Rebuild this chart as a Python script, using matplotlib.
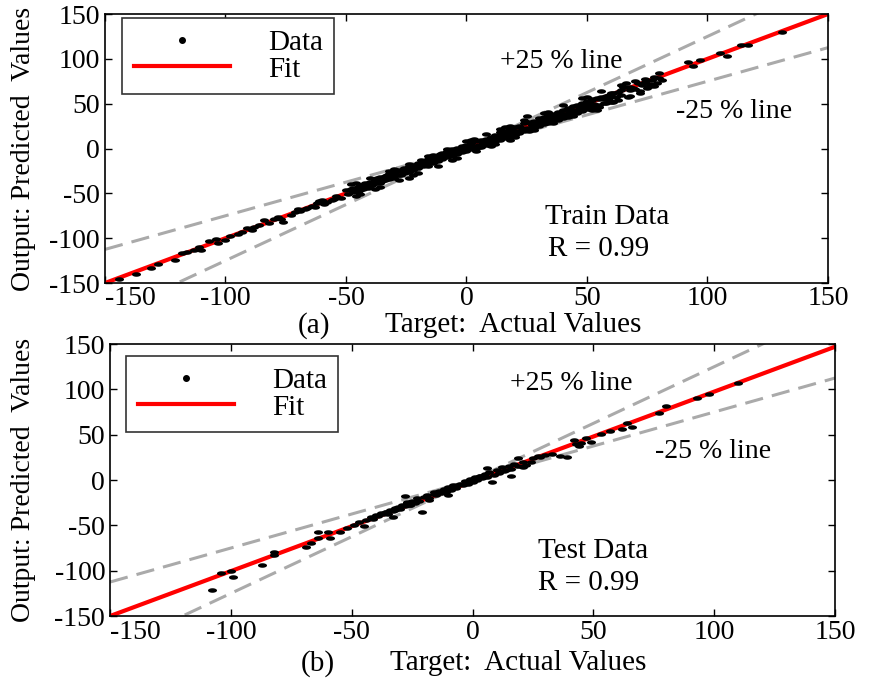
import numpy as np
import matplotlib
matplotlib.use('Agg')
import matplotlib.pyplot as plt
from matplotlib.lines import Line2D

plt.rcParams['font.family'] = ['Liberation Serif', 'DejaVu Serif']
plt.rcParams['axes.unicode_minus'] = False

# training set: target (x) vs network output (y)
train_x = [
    -48, -47, -47, -46, -45, -44, -44, -43, -42, -41,
    -40, -40, -39, -38, -38, -37, -36, -36, -35, -34,
    -34, -33, -32, -32, -31, -30, -30, -29, -28, -28,
    -27, -26, -26, -25, -24, -24, -23, -22, -22, -21,
    -20, -20, -19, -18, -18, -17, -16, -16, -15, -14,
    -14, -13, -12, -12, -11, -10, -10, -9, -8, -8,
    -7, -6, -6, -5, -4, -4, -3, -2, -2, -1,
    0, 0, 1, 2, 2, 3, 4, 4, 5, 6,
    6, 7, 8, 8, 9, 10, 10, 11, 12, 12,
    13, 14, 14, 15, 16, 16, 17, 18, 18, 19,
    20, 20, 21, 22, 22, 23, 24, 24, 25, 26,
    26, 27, 28, 28, 29, 30, 30, 31, 32, 32,
    33, 34, 34, 35, 36, 36, 37, 38, 38, 39,
    40, 40, 41, 42, 42, 43, 44, 44, 45, 46,
    46, 47, 48, 48, 49, 50, 50, 51, 52, 52,
    53, 54, 55, 56, 57, 58, 59, 60, 62, 63,
    -45, -42, -37, -33, -29, -25, -21, -17, -13, -9,
    -5, -1, 3, 7, 11, 15, 19, 23, 27, 31,
    35, 39, 43, 47, 51, 55, 59, 61, 64, 68,
    -48, -44, -40, -36, -32, -28, -24, -20, -16, -12,
    -8, -4, 0, 4, 8, 12, 16, 20, 24, 28,
    32, 36, 40, 44, 48, 52, 56, 60, 64, 68,
    -46, -38, -30, -22, -14, -6, 2, 10, 18, 26,
    34, 42, 50, 58, 66, 72, 76, 78, 74, 70,
    -144, -137, -128, -121, -118, -113, -107, -103, -100, -95,
    -89, -88, -84, -82, -76, -73, -69, -66, -62, -60,
    -58, -56, -54, -52, -50, -49, -46, -45, -43, -39,
    -34, -32, -26, -24, -19, -15, -11, 3, 5, 14,
    18, 25, 26, 36, 41, 52, 55, 59, 61, 65,
    67, 75, 77, 80, 81, 54, 63, 66, 72, 79,
    92, 94, 97, 105, 108, 114, 117, 131, 70, 74,
    69, 71, 73, 76, 78, 80, 57, 60, 64, 68,
    -131, -116, -111, -110, -104, -98, -93, -91, -86, -80,
    -78, -77, -71, -70, -67, -64, -63, -61, -59, -55,
]
train_y = [
    -45, -49, -44, -47, -43, -46, -41, -45, -39, -44,
    -37, -42, -40, -35, -39, -33, -38, -32, -36, -31,
    -35, -30, -34, -28, -31, -27, -33, -25, -30, -24,
    -29, -23, -27, -25, -20, -26, -22, -18, -24, -20,
    -16, -22, -18, -14, -20, -17, -12, -19, -14, -10,
    -16, -12, -8, -14, -10, -5, -12, -7, -3, -10,
    -6, -1, -8, -4, 1, -6, -2, 3, -4, 0,
    4, -3, 2, 6, -1, 3, 8, 1, 4, 9,
    2, 6, 11, 4, 8, 13, 6, 10, 15, 8,
    12, 18, 10, 14, 20, 12, 16, 22, 13, 18,
    24, 15, 19, 25, 17, 21, 28, 19, 23, 30,
    21, 26, 31, 23, 27, 34, 25, 29, 35, 27,
    32, 37, 29, 34, 39, 31, 35, 41, 32, 37,
    43, 34, 39, 45, 36, 41, 47, 38, 43, 48,
    40, 45, 51, 42, 47, 53, 44, 48, 55, 46,
    50, 56, 49, 57, 51, 59, 54, 61, 57, 63,
    -46, -41, -38, -32, -29, -26, -20, -16, -14, -8,
    -6, 1, 2, 8, 12, 16, 21, 23, 29, 31,
    36, 40, 44, 48, 52, 55, 60, 62, 65, 69,
    -40, -51, -33, -43, -25, -35, -17, -27, -8, -19,
    0, -11, 8, -3, 16, 5, 24, 13, 32, 21,
    40, 29, 48, 36, 56, 43, 64, 52, 71, 59,
    -39, -45, -23, -29, -7, -13, 9, 3, 25, 19,
    41, 35, 57, 51, 73, 64, 72, 70, 78, 75,
    -145, -140, -129, -124, -116, -113, -103, -105, -102, -95,
    -91, -88, -80, -83, -82, -74, -70, -66, -61, -57,
    -60, -57, -53, -55, -46, -51, -53, -48, -43, -41,
    -32, -28, -22, -33, -13, -9, -6, 11, 2, 22,
    9, 36, 21, 37, 43, 54, 46, 58, 52, 69,
    58, 67, 76, 79, 76, 43, 54, 69, 62, 73,
    97, 92, 99, 106, 103, 116, 115, 130, 66, 74,
    67, 73, 71, 70, 80, 84, 55, 62, 60, 65,
    -133, -115, -110, -113, -101, -97, -93, -89, -85, -79,
    -76, -79, -71, -68, -68, -64, -65, -59, -62, -56,
]

# test set
test_x = [
    -44, -42, -41, -40, -39, -38, -37, -36, -35, -34,
    -33, -32, -31, -30, -29, -28, -27, -26, -25, -24,
    -23, -22, -20, -19, -18, -16, -15, -14, -13, -12,
    -11, -10, -9, -8, -7, -5, -4, -3, -2, -1,
    0, 1, 2, 3, 4, 5, 6, 7, 9, 10,
    11, 12, 13, 15, 16, 17, 19, 21, 22, 25,
    -108, -104, -100, -99, -87, -82, -82, -69, -67, -64,
    -64, -60, -59, -55, -52, -49, -47, -45, -36, -33,
    -32, -28, -27, -26, -21, -18, -16, -10, -6, 0,
    3, 6, 8, 14, 16, 19, 21, 24, 28, 33,
    36, 39, 42, 43, 47, 49, 53, 57, 62, 64,
    66, 77, 80, 93, 98, 110, 44, 45, 30, 27,
]
test_y = [
    -44, -41, -43, -39, -40, -36, -38, -35, -37, -33,
    -34, -31, -30, -32, -27, -29, -24, -28, -23, -25,
    -20, -23, -19, -16, -20, -13, -17, -12, -14, -10,
    -13, -8, -11, -6, -9, -4, -6, -1, -4, 1,
    -2, 3, 0, 5, 2, 7, 3, 9, 6, 11,
    8, 14, 10, 16, 12, 18, 15, 20, 17, 24,
    -121, -102, -100, -107, -94, -79, -83, -74, -69, -64,
    -57, -57, -64, -57, -53, -50, -46, -51, -35, -41,
    -33, -18, -25, -28, -35, -22, -15, -17, -6, 1,
    5, 13, -2, 11, 5, 24, 14, 20, 25, 29,
    26, 25, 44, 40, 46, 42, 51, 54, 56, 63,
    58, 74, 82, 90, 95, 107, 38, 41, 28, 26,
]

# regression fits (slope, intercept) and correlation
fit_train = (1.0, 0.0)
fit_test = (0.99, -1.5)
r_train = 0.99
r_test = 0.99
band = 0.25  # +/- 25 % lines
ticks = [-150, -100, -50, 0, 50, 100, 150]

# flattened dot used for the data points
t = np.linspace(0, 2 * np.pi, 40)
dot = np.column_stack([np.cos(t), 0.5 * np.sin(t)])


def draw(ax, x, y, fit, name, r, tag, pos):
    xs = np.array([-150, 150])
    for k in (1 + band, 1 - band):
        ax.plot(xs, k * xs, color='#aaaaaa', lw=2.2, dashes=(6, 3), zorder=1)
    ax.plot(xs, fit[0] * xs + fit[1], color='red', lw=3, zorder=2)
    ax.plot(x, y, ls='none', marker=dot, ms=6.5, mew=0, color='k', zorder=3)

    ax.set_xlim(-150, 150)
    ax.set_ylim(-150, 150)
    ax.set_xticks(ticks)
    ax.set_yticks(ticks)
    ax.tick_params(direction='in', top=True, right=True, length=5,
                   labelsize=20, width=1)
    ax.tick_params(axis='x', pad=2.5)
    ax.get_xticklabels()[0].set_horizontalalignment('left')
    for s in ax.spines.values():
        s.set_linewidth(1.2)

    ax.set_ylabel('Output: Predicted  Values', fontsize=20)
    ax.yaxis.set_label_coords(pos['ylab'], 0.5)
    ax.set_xlabel('Target:  Actual Values', fontsize=21, va='top')
    ax.xaxis.set_label_coords(pos['xlab'][0], pos['xlab'][1])
    ax.text(pos['tag'][0], pos['tag'][1], tag, transform=ax.transAxes,
            ha='center', va='top', fontsize=21)

    ax.text(*pos['plus'], '+25 % line', fontsize=20)
    ax.text(*pos['minus'], '-25 % line', fontsize=20)
    ax.text(*pos['name'], name, fontsize=21)
    ax.text(*pos['r'], 'R = %.2f' % r, fontsize=21)

    handles = [Line2D([], [], ls='none', marker='o', ms=4, color='k'),
               Line2D([], [], color='red', lw=3)]
    leg = ax.legend(handles, ['Data', 'Fit'], loc='upper left',
                    bbox_to_anchor=pos['leg'], borderaxespad=0,
                    fontsize=21, handlelength=3.3, handletextpad=1.3,
                    borderpad=0.4, labelspacing=0.0, fancybox=False,
                    framealpha=1)
    leg.get_frame().set_edgecolor('#333333')
    leg.get_frame().set_linewidth(1.2)


fig = plt.figure(figsize=(8.69, 6.81), dpi=100)
ax1 = fig.add_axes([0.1208, 0.5844, 0.832, 0.395])
ax2 = fig.add_axes([0.1266, 0.0954, 0.8343, 0.3994])

draw(ax1, train_x, train_y, fit_train, 'Train Data', r_train, '(a)',
     {'ylab': -0.095, 'xlab': (0.564, -0.107), 'tag': (0.289, -0.107),
      'plus': (14, 90), 'minus': (87, 34), 'name': (32.6, -84),
      'r': (33.8, -120), 'leg': (0.0235, 0.985)})
draw(ax2, test_x, test_y, fit_test, 'Test Data', r_test, '(b)',
     {'ylab': -0.102, 'xlab': (0.563, -0.125), 'tag': (0.287, -0.125),
      'plus': (15.5, 99), 'minus': (75.5, 24), 'name': (27, -86),
      'r': (27, -121), 'leg': (0.022, 0.956)})

fig.savefig('out.png', dpi=100)
